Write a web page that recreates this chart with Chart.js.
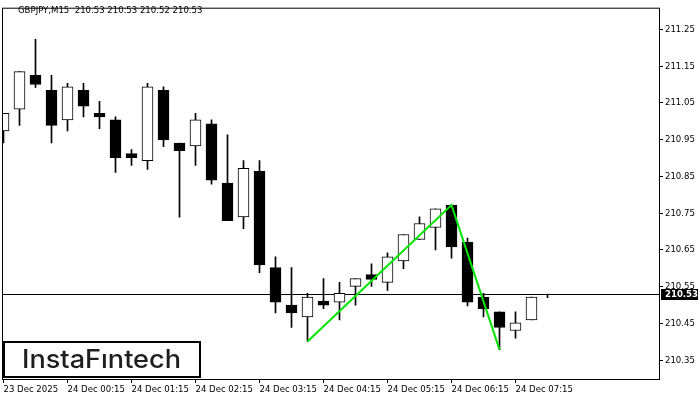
<!DOCTYPE html>
<html>
<head>
<meta charset="utf-8">
<script src="https://cdn.jsdelivr.net/npm/chart.js@4.4.1/dist/chart.umd.min.js"></script>
<style>
  body { margin: 0; background: #fff; }
  canvas { display: block; }
</style>
</head>
<body>
<canvas id="chart" width="700" height="400"></canvas>
<script>
const titleText = "GBPJPY,M15  210.53 210.53 210.52 210.53"
const logoText = "InstaF\u0131ntech"

// M15 candles, oldest first
const opens = [
  210.974, 211.033, 211.125, 211.084, 211.004, 211.084, 211.022, 211.004, 210.912, 210.893,
  211.084, 210.941, 210.933, 210.993, 210.832, 210.740, 210.864, 210.602, 210.500, 210.468,
  210.511, 210.508, 210.551, 210.583, 210.562, 210.620, 210.679, 210.711, 210.772, 210.671,
  210.522, 210.482, 210.431, 210.460, 210.530
]
const highs = [
  211.022, 211.135, 211.223, 211.125, 211.103, 211.103, 211.054, 211.012, 210.923, 211.103,
  211.094, 210.941, 211.022, 211.004, 210.963, 210.893, 210.893, 210.631, 210.602, 210.532,
  210.572, 210.562, 210.572, 210.612, 210.642, 210.692, 210.740, 210.762, 210.772, 210.682,
  210.532, 210.482, 210.482, 210.522, 210.530
]
const lows = [
  210.941, 210.989, 211.092, 210.941, 210.974, 211.012, 210.980, 210.861, 210.880, 210.869,
  210.931, 210.739, 210.880, 210.829, 210.730, 210.708, 210.588, 210.479, 210.439, 210.401,
  210.490, 210.460, 210.500, 210.551, 210.540, 210.599, 210.679, 210.650, 210.628, 210.498,
  210.468, 210.379, 210.410, 210.460, 210.520
]
const closes = [
  211.022, 211.135, 211.100, 210.989, 211.094, 211.041, 211.012, 210.901, 210.901, 211.094,
  210.949, 210.920, 211.004, 210.840, 210.730, 210.872, 210.609, 210.508, 210.479, 210.522,
  210.500, 210.532, 210.572, 210.570, 210.631, 210.692, 210.722, 210.762, 210.658, 210.508,
  210.490, 210.439, 210.452, 210.522, 210.530
]
const lastPrice = 210.53

const priceTicks = [210.35, 210.45, 210.55, 210.65, 210.75, 210.85, 210.95, 211.05, 211.15, 211.25]
const timeTickIndex = [0, 4, 8, 12, 16, 20, 24, 28, 32]
const timeTickLabels = [
  "23 Dec 2025", "24 Dec 00:15", "24 Dec 01:15", "24 Dec 02:15", "24 Dec 03:15",
  "24 Dec 04:15", "24 Dec 05:15", "24 Dec 06:15", "24 Dec 07:15"
]

// double bottom / top pattern line
const patternIndex = [19, 28, 31]
const patternPrice = [210.401, 210.772, 210.379]

const FONT = "'DejaVu Sans Condensed', 'Liberation Sans', sans-serif"
const FONT_SIZE = 9.5
const GREEN = "#00e600"

const overlay = {
  id: "overlay",
  beforeDatasetsDraw(chart) {
    const { ctx, chartArea: a, scales: { y } } = chart
    const py = Math.round(y.getPixelForValue(lastPrice)) + 0.5
    ctx.save()
    ctx.strokeStyle = "#000"
    ctx.lineWidth = 1
    ctx.beginPath()
    ctx.moveTo(a.left, py)
    ctx.lineTo(a.right, py)
    ctx.stroke()
    ctx.restore()
  },
  afterDraw(chart) {
    const { ctx, chartArea: a, scales: { y } } = chart
    ctx.save()

    // frame
    ctx.strokeStyle = "#000"
    ctx.lineWidth = 1
    ctx.strokeRect(a.left + 0.5, a.top + 0.5, a.right - a.left, a.bottom - a.top)

    // last price box
    const py = Math.round(y.getPixelForValue(lastPrice))
    ctx.fillStyle = "#000"
    ctx.fillRect(a.right + 2, py - 5, 37, 11)
    ctx.fillStyle = "#fff"
    ctx.font = "bold " + FONT_SIZE + "px " + FONT
    ctx.textBaseline = "middle"
    ctx.textAlign = "left"
    ctx.fillText(lastPrice.toFixed(2), a.right + 6, py + 1)

    // title
    ctx.fillStyle = "#000"
    ctx.font = FONT_SIZE + "px " + FONT
    ctx.fillText(titleText, 18, 11)

    // logo
    ctx.fillStyle = "#fff"
    ctx.fillRect(4, 342, 196, 35)
    ctx.strokeStyle = "#000"
    ctx.lineWidth = 2
    ctx.strokeRect(4, 342, 196, 35)
    ctx.fillStyle = "#1e1e1e"
    ctx.font = "500 25px Inter, sans-serif"
    ctx.textBaseline = "alphabetic"
    const w = ctx.measureText(logoText).width
    ctx.translate(22, 368)
    ctx.scale(159 / w, 1)
    ctx.fillText(logoText, 0, 0)
    ctx.restore()
  }
}

new Chart(document.getElementById("chart"), {
  data: {
    datasets: [
      {
        type: "line",
        data: patternIndex.map((x, i) => ({ x: x, y: patternPrice[i] })),
        borderColor: GREEN,
        borderWidth: 2,
        pointRadius: 0,
        tension: 0
      },
      {
        type: "bar",
        data: opens.map((o, i) => ({ x: i, y: [o, closes[i]] })),
        backgroundColor: opens.map((o, i) => closes[i] >= o ? "#fff" : "#000"),
        borderColor: "#000",
        borderWidth: 1,
        borderSkipped: false,
        barThickness: 11,
        grouped: false
      },
      {
        type: "bar",
        data: lows.map((l, i) => ({ x: i, y: [l, highs[i]] })),
        backgroundColor: "#000",
        borderWidth: 0,
        barThickness: 1,
        grouped: false
      }
    ]
  },
  options: {
    responsive: false,
    animation: false,
    layout: { padding: { left: 2, top: 2, right: 0, bottom: 0 } },
    plugins: {
      legend: { display: false },
      tooltip: { enabled: false }
    },
    scales: {
      x: {
        type: "linear",
        offset: false,
        min: -0.09375,
        max: 40.96875,
        afterBuildTicks: (scale) => { scale.ticks = timeTickIndex.map((v) => ({ value: v })) },
        afterFit: (scale) => { scale.height = 21 },
        grid: { offset: false, drawOnChartArea: false, drawTicks: true, tickLength: 4, color: "#000" },
        border: { display: false },
        ticks: {
          autoSkip: false,
          maxRotation: 0,
          align: "start",
          padding: 1,
          color: "#000",
          font: { family: FONT, size: FONT_SIZE },
          callback: (v, i) => timeTickLabels[i]
        }
      },
      y: {
        position: "right",
        min: 210.299,
        max: 211.309,
        afterBuildTicks: (scale) => { scale.ticks = priceTicks.map((v) => ({ value: v })) },
        afterFit: (scale) => { scale.width = 41 },
        grid: { drawOnChartArea: false, drawTicks: true, tickLength: 4, color: "#000" },
        border: { display: false },
        ticks: {
          padding: 2,
          color: "#000",
          font: { family: FONT, size: FONT_SIZE },
          callback: (v) => v.toFixed(2)
        }
      }
    }
  },
  plugins: [overlay]
})
</script>
</body>
</html>
